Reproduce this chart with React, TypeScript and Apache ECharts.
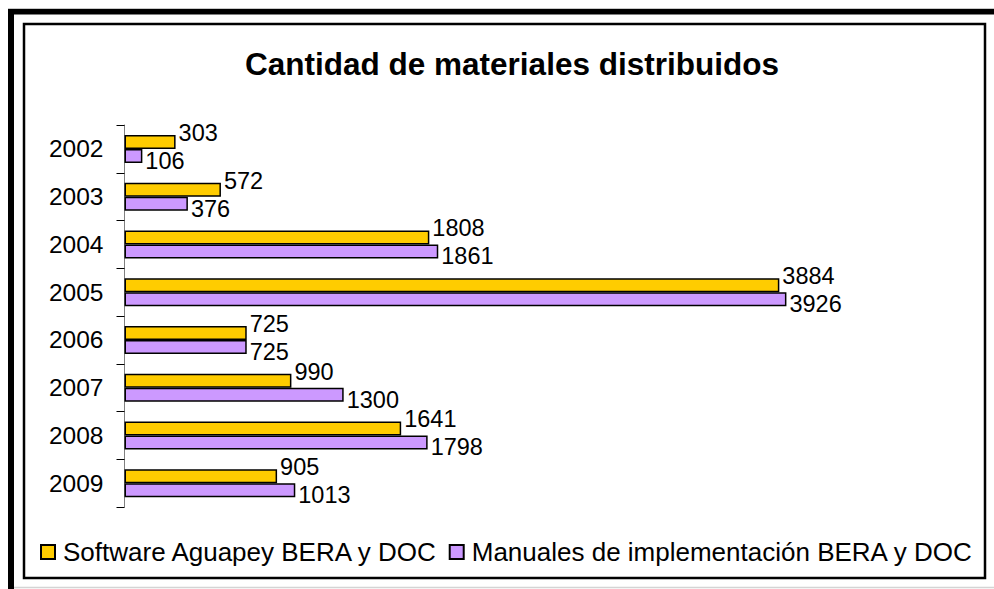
import React, { useEffect, useRef } from "react";
import * as echarts from "echarts";

const years = ["2002", "2003", "2004", "2005", "2006", "2007", "2008", "2009"];
const software = [303, 572, 1808, 3884, 725, 990, 1641, 905];
const manuales = [106, 376, 1861, 3926, 725, 1300, 1798, 1013];
const seriesNames = ["Software Aguapey BERA y DOC", "Manuales de implementación BERA y DOC"];
const titleText = "Cantidad de materiales distribuidos";

const FONT = "'Liberation Sans', Arial, sans-serif";

export default function App() {
  const ref = useRef<HTMLDivElement>(null);
  useEffect(() => {
    if (!ref.current) return;
    const chart = echarts.init(ref.current, undefined, { renderer: "svg" });
    chart.setOption({
      animation: false,
      backgroundColor: "#ffffff",
      textStyle: { fontFamily: FONT },
      title: {
        text: titleText,
        left: 507,
        top: 43,
        textAlign: "center",
        textStyle: { fontFamily: FONT, fontSize: 31.5, fontWeight: "bold", color: "#000" },
      },
      legend: {
        left: 35,
        top: 534,
        itemWidth: 14,
        itemHeight: 14,
        itemGap: 10,
        icon: "rect",
        textStyle: { fontFamily: FONT, fontSize: 26, color: "#000", padding: [0, 0, 0, 3] },
        data: seriesNames,
      },
      grid: { left: 124.5, right: 110.8, top: 125, bottom: 82, containLabel: false },
      xAxis: { type: "value", min: 0, max: 4500, show: false },
      yAxis: {
        type: "category",
        data: years,
        inverse: true,
        axisLine: { show: true, lineStyle: { color: "#808080", width: 1 } },
        axisTick: { show: true, length: 8, lineStyle: { color: "#000", width: 1 } },
        axisLabel: { fontFamily: FONT, fontSize: 24.5, color: "#000", margin: 21 },
      },
      series: [
        {
          name: seriesNames[0],
          type: "bar",
          data: software,
          barWidth: 14,
          barGap: "0%",
          itemStyle: { color: "#FFCC00", borderColor: "#000", borderWidth: 1.5 },
          label: {
            show: true,
            position: "right",
            distance: 3,
            offset: [0, -9],
            fontFamily: FONT,
            fontSize: 23.5,
            color: "#000",
          },
        },
        {
          name: seriesNames[1],
          type: "bar",
          data: manuales,
          barWidth: 14,
          itemStyle: { color: "#CC99FF", borderColor: "#000", borderWidth: 1.5 },
          label: {
            show: true,
            position: "right",
            distance: 3,
            offset: [0, 5],
            fontFamily: FONT,
            fontSize: 23.5,
            color: "#000",
          },
        },
      ],
      graphic: [
        { type: "line", shape: { x1: 8, y1: 8.5, x2: 994, y2: 8.5 }, style: { stroke: "#c8c8c8", lineWidth: 1 }, silent: true },
        { type: "rect", shape: { x: 8, y: 9, width: 986, height: 5.5 }, style: { fill: "#000" }, silent: true },
        { type: "rect", shape: { x: 8, y: 9, width: 6, height: 580 }, style: { fill: "#000" }, silent: true },
        { type: "line", shape: { x1: 14, y1: 587.5, x2: 994, y2: 587.5 }, style: { stroke: "#d4d4d4", lineWidth: 1.5 }, silent: true },
        { type: "rect", shape: { x: 24, y: 24, width: 961, height: 554 }, style: { fill: "none", stroke: "#000", lineWidth: 2.5 }, silent: true },
      ],
    });
    return () => chart.dispose();
  }, []);
  return (
    <div
      ref={ref}
      style={{ position: "absolute", left: 0, top: 0, width: 994, height: 589, background: "#fff" }}
    />
  );
}
